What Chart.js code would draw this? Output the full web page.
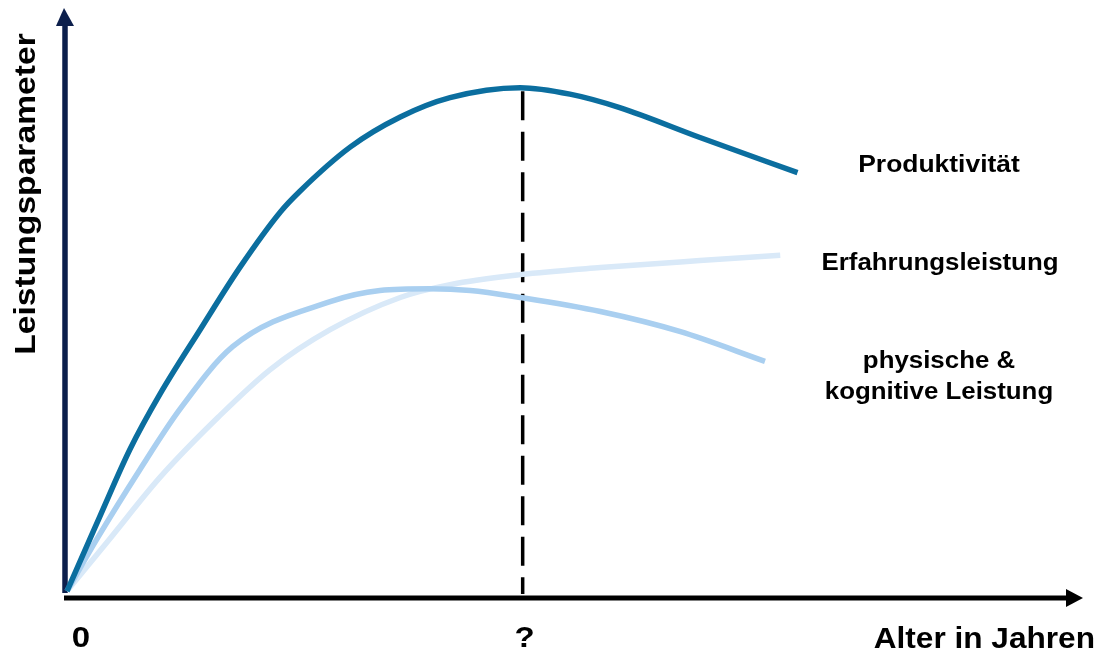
<!DOCTYPE html>
<html><head><meta charset="utf-8">
<script src="https://cdn.jsdelivr.net/npm/chart.js@4"></script>
<style>html,body{margin:0;padding:0;background:#fff}#wrap{width:1097px;height:653px;position:relative}</style>
</head><body><div id="wrap"><canvas id="c"></canvas></div>
<script>
// Age axis (0..100, conceptual) and performance level (0..100, conceptual)
const produktivitaetAge = [0, 2.26, 3.25, 6.2, 9.15, 13.1, 17.0, 21.0, 22.9, 27.9, 32.8, 37.7, 44.6, 49.5, 54.4, 62.3, 71.9];
const produktivitaetVal = [0.5, 9.4, 13.3, 24.7, 34.1, 45.1, 55.7, 65.2, 68.7, 76.3, 81.4, 84.7, 86.4, 85.3, 83.0, 77.9, 71.9];

const physischAge = [0, 2.95, 7.2, 11.1, 16.3, 25.9, 30.8, 35.7, 39.7, 44.6, 52.5, 60.3, 68.7];
const physischVal = [0.5, 9.4, 21.3, 31.5, 42.2, 49.9, 51.8, 52.1, 51.8, 50.6, 48.2, 44.8, 39.7];

const erfahrungAge = [0, 4.2, 9.15, 14.9, 20.0, 25.9, 32.8, 37.7, 44.6, 52.5, 62.3, 70.2];
const erfahrungVal = [0.5, 9.4, 19.9, 30.2, 38.3, 45.1, 50.6, 52.8, 54.5, 55.7, 56.9, 57.8];

const peakAge = 44.85;
const peakVal = 86.4;

const xTickValues = [0, peakAge];
const xTickLabels = ['0', '?'];
const xAxisTitle = 'Alter in Jahren';
const yAxisTitle = 'Leistungsparameter';
const seriesNames = ['Produktivität', 'Erfahrungsleistung', ['physische &', 'kognitive Leistung']];

const zip = (xs, ys) => xs.map((x, i) => ({x, y: ys[i]}));

const FONT = '"Liberation Sans", Arial, Helvetica, sans-serif';

function txt(ctx, s, x, y, size, sx, align) {
  ctx.save();
  ctx.translate(x, y);
  ctx.scale(sx, 1);
  ctx.font = 'bold ' + size + 'px ' + FONT;
  ctx.fillStyle = '#000';
  ctx.textAlign = align || 'center';
  ctx.textBaseline = 'alphabetic';
  ctx.fillText(s, 0, 0);
  ctx.restore();
}

const decor = {
  id: 'decor',
  beforeDatasetsDraw(chart) {
    const ctx = chart.ctx, ca = chart.chartArea;
    const xs = chart.scales.x, ys = chart.scales.y;
    const x0 = xs.getPixelForValue(0) - 2;
    const yb = ys.getPixelForValue(0) + 4;
    ctx.save();
    // y axis (navy)
    ctx.strokeStyle = '#0c1f4c';
    ctx.fillStyle = '#0c1f4c';
    ctx.lineWidth = 5.5;
    ctx.beginPath();
    ctx.moveTo(x0, ys.getPixelForValue(0) - 1);
    ctx.lineTo(x0, ca.top + 18);
    ctx.stroke();
    ctx.beginPath();
    ctx.moveTo(x0 - 9, ca.top + 18);
    ctx.lineTo(x0 + 9, ca.top + 18);
    ctx.lineTo(x0 - 1, ca.top);
    ctx.closePath();
    ctx.fill();
    // x axis (black)
    ctx.strokeStyle = '#000';
    ctx.fillStyle = '#000';
    ctx.lineWidth = 5;
    ctx.beginPath();
    ctx.moveTo(x0 - 1, yb);
    ctx.lineTo(ca.right - 16, yb);
    ctx.stroke();
    ctx.beginPath();
    ctx.moveTo(ca.right - 17, yb - 9);
    ctx.lineTo(ca.right - 17, yb + 9);
    ctx.lineTo(ca.right, yb);
    ctx.closePath();
    ctx.fill();
    ctx.restore();
  },
  afterDatasetsDraw(chart) {
    const ctx = chart.ctx;
    const xs = chart.scales.x;
    // tick labels
    xTickValues.forEach((v, i) => {
      txt(ctx, xTickLabels[i], xs.getPixelForValue(v) + (i === 0 ? 14 : 2), 647, 30, 1.1);
    });
    txt(ctx, xAxisTitle, 1095, 648, 29, 1.09, 'right');
    // rotated y title
    ctx.save();
    ctx.translate(35, 194);
    ctx.rotate(-Math.PI / 2);
    ctx.scale(1.16, 1);
    ctx.font = 'bold 29px ' + FONT;
    ctx.fillStyle = '#000';
    ctx.textAlign = 'center';
    ctx.textBaseline = 'alphabetic';
    ctx.fillText(yAxisTitle, 0, 0);
    ctx.restore();
    // series labels
    txt(ctx, seriesNames[0], 939, 172, 23.5, 1.125);
    txt(ctx, seriesNames[1], 940, 270, 23.5, 1.1);
    txt(ctx, seriesNames[2][0], 939, 368, 23.5, 1.1);
    txt(ctx, seriesNames[2][1], 939, 399, 23.5, 1.1);
  }
};

new Chart(document.getElementById('c'), {
  type: 'line',
  data: {
    datasets: [
      { label: 'Peak', data: [{x: peakAge, y: peakVal - 0.6}, {x: peakAge, y: 0}], borderColor: '#000', borderWidth: 3.5, borderDash: [29, 11.5], pointRadius: 0, tension: 0, clip: false, order: 4 },
      { label: seriesNames[0], data: zip(produktivitaetAge, produktivitaetVal), borderColor: '#0b6e9f', borderWidth: 5.5, pointRadius: 0, tension: 0.4, cubicInterpolationMode: 'monotone', clip: false, order: 1 },
      { label: seriesNames[2].join(' '), data: zip(physischAge, physischVal), borderColor: '#a9cff0', borderWidth: 5.5, pointRadius: 0, tension: 0.4, cubicInterpolationMode: 'monotone', clip: false, order: 2 },
      { label: seriesNames[1], data: zip(erfahrungAge, erfahrungVal), borderColor: '#d9e9f8', borderWidth: 5.5, pointRadius: 0, tension: 0.4, cubicInterpolationMode: 'monotone', clip: false, order: 3 }
    ]
  },
  options: {
    responsive: true,
    maintainAspectRatio: false,
    animation: false,
    layout: { padding: { left: 67, right: 14, top: 8, bottom: 59 } },
    plugins: { legend: { display: false }, tooltip: { enabled: false } },
    scales: {
      x: { type: 'linear', min: 0, max: 100, display: false },
      y: { type: 'linear', min: 0, max: 100, display: false }
    }
  },
  plugins: [decor]
});
</script>
</body></html>
